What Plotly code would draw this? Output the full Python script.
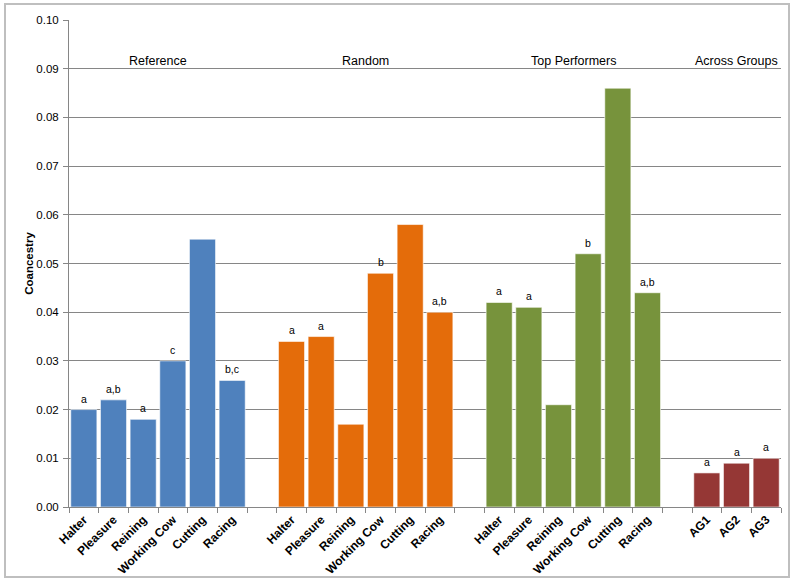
import plotly.graph_objects as go

breeds = ["Halter", "Pleasure", "Reining", "Working Cow", "Cutting", "Racing"]
ag_labels = ["AG1", "AG2", "AG3"]
group_names = ["Reference", "Random", "Top Performers", "Across Groups"]

reference = [0.020, 0.022, 0.018, 0.030, 0.055, 0.026]
random_ = [0.034, 0.035, 0.017, 0.048, 0.058, 0.040]
top = [0.042, 0.041, 0.021, 0.052, 0.086, 0.044]
across = [0.007, 0.009, 0.010]

ref_letters = ["a", "a,b", "a", "c", "", "b,c"]
rand_letters = ["a", "a", "", "b", "", "a,b"]
top_letters = ["a", "a", "", "b", "", "a,b"]
ag_letters = ["a", "a", "a"]

colors = ["#4F81BD", "#E46C0A", "#77933C", "#953735"]

groups = [
    (breeds, reference, ref_letters),
    (breeds, random_, rand_letters),
    (breeds, top, top_letters),
    (ag_labels, across, ag_letters),
]

fig = go.Figure()
tickvals, ticktext = [], []
annotations = []
pos = 0
for gi, (cats, vals, letters) in enumerate(groups):
    xs = list(range(pos, pos + len(cats)))
    fig.add_trace(go.Bar(
        x=xs, y=vals, marker=dict(color=colors[gi], line=dict(color="rgba(255,255,255,0.6)", width=1)),
        width=0.88, showlegend=False, hoverinfo="y"))
    tickvals += xs
    ticktext += cats
    for x, v, t in zip(xs, vals, letters):
        if t:
            annotations.append(dict(x=x, y=v, text=t, showarrow=False, yanchor="bottom",
                                    yshift=3, font=dict(size=10.5, color="#000")))
    center = (xs[0] + xs[-1]) / 2
    annotations.append(dict(x=center, y=0.0916, text=group_names[gi], showarrow=False,
                            yanchor="middle", font=dict(size=12.5, color="#000")))
    pos += len(cats) + 1

n_slots = pos - 1

fig.update_layout(
    width=800, height=585,
    margin=dict(l=69, r=19, t=20, b=78, autoexpand=False),
    paper_bgcolor="white", plot_bgcolor="white",
    font=dict(family="Arial, Liberation Sans, sans-serif", color="#000"),
    bargap=0.12,
    annotations=annotations,
    shapes=[dict(type="rect", xref="paper", yref="paper",
                 x0=(5 - 69) / 712, x1=(789 - 69) / 712,
                 y0=(507 - 577) / 487, y1=1 + (20 - 4) / 487,
                 line=dict(color="#BFBFBF", width=2), layer="below")],
)
fig.update_xaxes(
    range=[-0.5, n_slots - 0.5], tickmode="array", tickvals=tickvals,
    ticktext=["<b>%s</b>" % t for t in ticktext], tickangle=-45,
    tickfont=dict(size=12, color="#000"), ticks="", showgrid=False,
    showline=True, linecolor="#868686", linewidth=1, zeroline=False,
    minor=dict(ticks="outside", tick0=-0.5, dtick=1, ticklen=5, tickcolor="#868686", showgrid=False),
)
fig.update_yaxes(
    range=[0, 0.10], dtick=0.01, tickformat=".2f", showgrid=True,
    gridcolor="#868686", gridwidth=1, showline=True, linecolor="#868686", linewidth=1,
    ticks="outside", ticklen=5, tickcolor="#868686", zeroline=False,
    tickfont=dict(size=11.5, color="#000"), ticklabelstandoff=2,
    title=dict(text="<b>Coancestry</b>", font=dict(size=11.5, color="#000"), standoff=0),
)

fig.write_html("out.html", config={"displayModeBar": False},
               post_script="document.body.style.margin='0';")
